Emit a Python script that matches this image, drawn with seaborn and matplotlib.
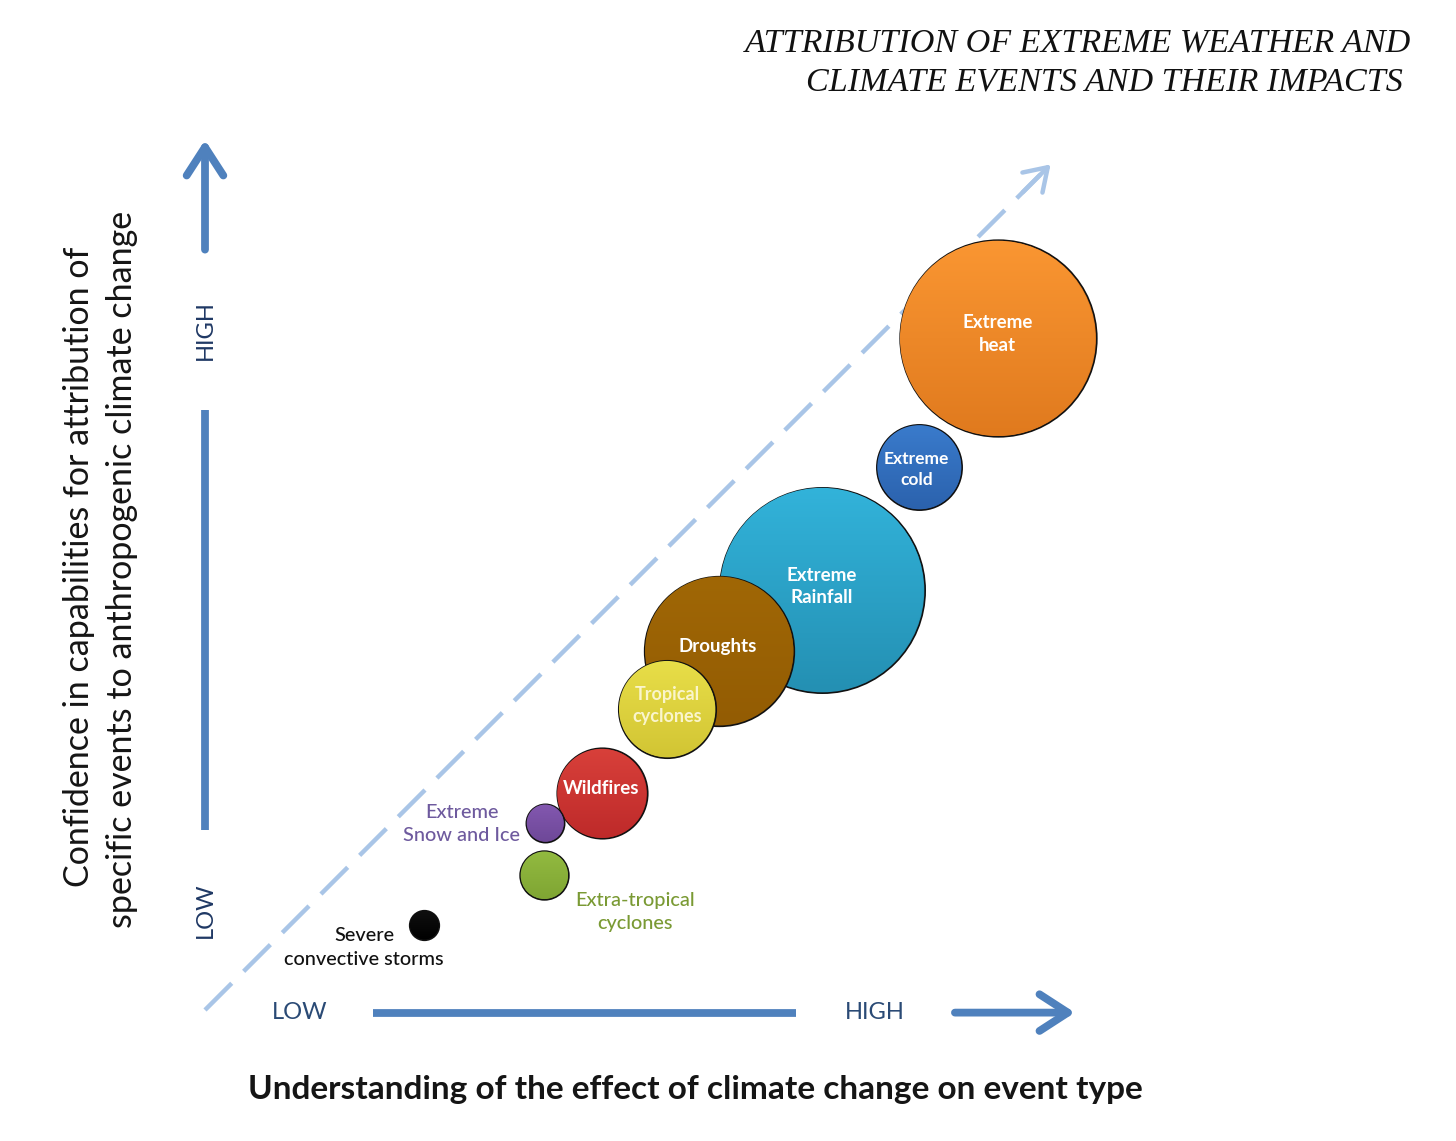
import numpy as np
import pandas as pd
import matplotlib
matplotlib.use("Agg")
import matplotlib.pyplot as plt
from matplotlib.colors import LinearSegmentedColormap, to_rgb
from matplotlib.patches import Circle
import seaborn as sns

# ---- data (x: understanding 0-10, y: confidence 0-10, radius in data units)
events = ["Extreme Rainfall", "Droughts", "Tropical cyclones", "Wildfires",
          "Extreme Snow and Ice", "Extra-tropical cyclones",
          "Severe convective storms", "Extreme heat", "Extreme cold"]
understanding = [7.09, 5.91, 5.31, 4.56, 3.91, 3.90, 2.52, 9.11, 8.21]
confidence = [4.83, 4.13, 3.46, 2.49, 2.15, 1.55, 0.98, 7.72, 6.24]
radius = [1.18, 0.86, 0.56, 0.52, 0.22, 0.28, 0.17, 1.13, 0.49]
colors_top = ["#32B3DA", "#A06706", "#E8DE48", "#D8403A",
              "#8358B0", "#92BA40", "#101010", "#FA9632", "#3A7BCC"]
colors_bottom = ["#2490B3", "#935C03", "#D2C534", "#BE2A2A",
                 "#6E4898", "#7FA533", "#000000", "#E07A1E", "#2B62AD"]

inner_labels = ["Extreme\nRainfall", "Droughts", "Tropical\ncyclones", "Wildfires",
                "Extreme\nheat", "Extreme\ncold"]
inner_x = [7.09, 5.89, 5.31, 4.55, 9.11, 8.18]
inner_y = [4.87, 4.18, 3.50, 2.55, 7.77, 6.21]
inner_size = [13.5, 13.5, 13, 13.5, 13.5, 12.5]
inner_color = ["white", "white", "#FAF5CC", "white", "white", "white"]

outer_labels = ["Extreme\nSnow and Ice", "Extra-tropical\ncyclones",
                "Severe\nconvective storms"]
outer_x = [2.95, 4.94, 1.83]
outer_y = [2.14, 1.13, 0.72]
outer_color = ["#6E5A9E", "#7A9A34", "#111111"]

title_lines = ["ATTRIBUTION OF EXTREME WEATHER AND", "CLIMATE EVENTS AND THEIR IMPACTS "]
x_title = "Understanding of the effect of climate change on event type"
y_title = ["Confidence in capabilities for attribution of",
           "specific events to anthropogenic climate change"]
level_labels = ["LOW", "HIGH"]

sns.set_theme(style="white")
plt.rcParams['font.family'] = ['Lato', 'DejaVu Sans']

W, H, DPI = 1456, 1141, 100
fig = plt.figure(figsize=(W / DPI, H / DPI), dpi=DPI)
fig.patch.set_facecolor("white")

ax = fig.add_axes([205 / W, (H - 1010) / H, 870 / W, 870 / H])
ax.set_xlim(0, 10)
ax.set_ylim(0, 10)
ax.set_axis_off()

AX_BLUE = "#4F81BD"
NAVY = "#1F3864"
DIAG = "#A9C5E7"

# diagonal dashed guide
diag = np.array([0.0, 9.6])
ax.plot(diag, diag, color=DIAG, lw=3.2, dashes=(8.5, 3.8),
        dash_capstyle="butt", clip_on=False, zorder=1)
ax.annotate("", xy=(9.72, 9.72), xytext=(9.40, 9.40),
            arrowprops=dict(arrowstyle="->,head_length=1.3,head_width=0.85",
                            color=DIAG, lw=3.2, shrinkA=0, shrinkB=0),
            annotation_clip=False, zorder=1)

# vertical axis
ax.plot([0, 0], [2.07, 6.90], color=AX_BLUE, lw=5.6, solid_capstyle="butt",
        clip_on=False)
ax.annotate("", xy=(0, 10.0), xytext=(0, 8.74),
            arrowprops=dict(arrowstyle="->,head_length=1.7,head_width=1.1",
                            color=AX_BLUE, lw=5.6, shrinkA=0, shrinkB=0),
            annotation_clip=False)
ax.text(0, 7.82, level_labels[1], rotation=90, ha="center", va="center",
        fontsize=17, color=NAVY)
ax.text(0, 1.15, level_labels[0], rotation=90, ha="center", va="center",
        fontsize=17, color=NAVY)

# horizontal axis
ax.plot([1.93, 6.79], [-0.03, -0.03], color=AX_BLUE, lw=5.6, solid_capstyle="butt",
        clip_on=False)
ax.annotate("", xy=(10.0, -0.03), xytext=(8.62, -0.03),
            arrowprops=dict(arrowstyle="->,head_length=1.7,head_width=1.1",
                            color=AX_BLUE, lw=5.6, shrinkA=0, shrinkB=0),
            annotation_clip=False)
ax.text(1.09, -0.03, level_labels[0], ha="center", va="center",
        fontsize=17, color="#2A4A75")
ax.text(7.70, -0.03, level_labels[1], ha="center", va="center",
        fontsize=17, color="#2A4A75")

# bubbles
px_per_unit = ax.transData.transform((1, 0))[0] - ax.transData.transform((0, 0))[0]
sizes = [(2 * r * px_per_unit * 72 / DPI) ** 2 for r in radius]
df = pd.DataFrame({"event": events, "x": understanding, "y": confidence,
                   "r": radius, "s": sizes})
edge_units = 0.7 / px_per_unit
grad = np.linspace(1, 0, 64).reshape(-1, 1)
for i, row in df.iterrows():
    z = 3 + i
    sns.scatterplot(x=[row.x], y=[row.y], s=row.s, color=colors_bottom[i],
                    edgecolor="#111111", linewidth=1.2, ax=ax, legend=False,
                    zorder=z, clip_on=False)
    cmap = LinearSegmentedColormap.from_list(
        f"g{i}", [to_rgb(colors_bottom[i]), to_rgb(colors_top[i])])
    img = ax.imshow(grad, cmap=cmap, aspect="auto", origin="upper",
                    extent=(row.x - row.r, row.x + row.r, row.y - row.r, row.y + row.r),
                    zorder=z + 0.5, interpolation="bilinear")
    clip = Circle((row.x, row.y), row.r - edge_units, transform=ax.transData)
    img.set_clip_box(fig.bbox)
    img.set_clip_path(clip)
ax.set_xlim(0, 10)
ax.set_ylim(0, 10)

for lab, x, y, fs, c in zip(inner_labels, inner_x, inner_y, inner_size, inner_color):
    ax.text(x, y, lab, ha="center", va="center", fontsize=fs, color=c,
            fontweight="bold", linespacing=1.4, zorder=20)

for lab, x, y, c in zip(outer_labels, outer_x, outer_y, outer_color):
    ax.text(x, y, lab, ha="center", va="center", fontsize=14.3, color=c,
            fontweight="medium", linespacing=1.45, zorder=20)

# titles
fig.text(1411 / W, 1 - 43 / H, title_lines[0], ha="right", va="center",
         fontsize=24.6, family="Liberation Serif", style="italic", color="#111111")
fig.text(1411 / W, 1 - 82 / H, title_lines[1], ha="right", va="center",
         fontsize=24.6, family="Liberation Serif", style="italic", color="#111111")

fig.text(695 / W, 1 - 1090 / H, x_title, ha="center", va="center",
         fontsize=24, fontweight="bold", color="#151515")
fig.text(79 / W, 1 - 567 / H, y_title[0], rotation=90, ha="center", va="center",
         fontsize=24.5, color="#151515")
fig.text(122 / W, 1 - 569 / H, y_title[1], rotation=90, ha="center", va="center",
         fontsize=24.5, color="#151515")

fig.savefig("out.png", dpi=DPI, facecolor="white")
